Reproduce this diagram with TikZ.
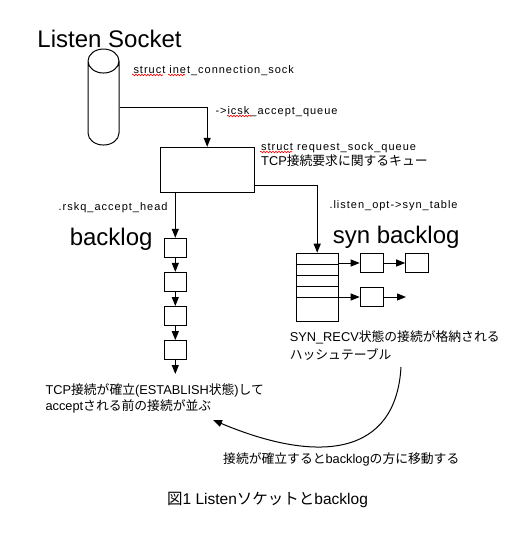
\documentclass[tikz,border=0pt]{standalone}
\usepackage{fontspec}
\setmainfont{Liberation Sans}
\newfontfamily\labfont[LetterSpace=9]{Liberation Sans}
\newfontfamily\jpfont{Noto Sans CJK JP}
\newcommand\jtext[1]{{\jpfont #1}}
\usetikzlibrary{arrows.meta,shapes.geometric,calc,decorations.pathmorphing}

\begin{document}
\begin{tikzpicture}[x=1pt, y=-1pt, line width=1pt, >={Triangle[length=9pt,width=7pt]},
	box/.style={draw, inner sep=0pt},
	cell/.style={box, minimum width=22pt, minimum height=19pt},
	entry/.style={box, minimum width=23pt, minimum height=19.4pt},
	lab/.style={inner sep=0pt, anchor=base west, font=\labfont\fontsize{11}{13}\selectfont},
	jp/.style={inner sep=0pt, anchor=base west, font=\fontsize{12.8}{15}\selectfont},
	big/.style={inner sep=0pt, anchor=base west, font=\fontsize{24}{28}\selectfont},
	typo/.style={red, line width=0.6pt, decorate, decoration={snake, amplitude=0.8pt, segment length=3pt}}]
	\useasboundingbox (0,0) rectangle (528,536);
	\node[big] (title) at (37,47) {Listen Socket};
	\node[cylinder, shape border rotate=90, draw, minimum width=31pt, minimum height=96pt, shape aspect=3.6] (sock) at (103.5,107) {};
	\node[lab] (inet) at (133,73) {struct inet\_connection\_sock};
	\node[lab] (icsk) at (215,114) {->icsk\_accept\_queue};
	\node[box, minimum width=94pt, minimum height=45pt] (queue) at (207.2,169.8) {};
	\node[lab] (rsq) at (260.7,150) {struct request\_sock\_queue};
	\node[jp] (rsqjp) at (260.7,165.7) {TCP\jtext{接続要求に関するキュー}};
	\draw[->] (sock.east) -| (queue.north);
	\draw[typo] (132,75) -- (163,75);
	\draw[typo] (168,75) -- (185,75);
	\draw[typo] (227,116) -- (251,116);
	\draw[typo] (260,152) -- (292,152);

	\node[lab, anchor=base east] (head) at (168,210.7) {.rskq\_accept\_head};
	\node[big] (bl) at (69.3,245) {backlog};
	\foreach \i in {1,...,4}
		\node[cell] (b\i) at (175.3,213.7+34.1*\i) {};
	\draw[->] (b1.north |- queue.south) -- (b1.north);
	\foreach \i [count=\j from 2] in {1,2,3}
		\draw[->] (b\i) -- (b\j);
	\coordinate (bend) at (175.3,374);
	\draw[->] (b4) -- (bend);

	\node[lab] (synt) at (329,208.3) {.listen\_opt->syn\_table};
	\node[big] (sbl) at (332.3,243.3) {syn backlog};
	\node[box, minimum width=42pt, minimum height=68pt] (hash) at (317.2,287.2) {};
	\foreach \i in {1,...,4}
		\draw ($(hash.north west)+(0,11.3*\i)$) -- ($(hash.north east)+(0,11.3*\i)$);
	\draw[->] ($(queue.south east)+(0,-7)$) -| (hash.north);
	\node[entry] (s1) at (371.7,263) {};
	\node[entry] (s2) at (417.2,263) {};
	\node[entry] (s3) at (371.7,297) {};
	\draw[->] (hash.east |- s1) -- (s1);
	\draw[->] (s1) -- (s2);
	\draw[->] (hash.east |- s3) -- (s3);
	\coordinate (send) at (406,297);
	\draw[->] (s3) -- (send);
	\node[jp] (recv1) at (289.3,341.7) {SYN\_RECV\jtext{状態の接続が格納される}};
	\node[jp] (recv2) at (289.3,359.3) {\jtext{ハッシュテーブル}};

	\node[jp] (est1) at (45,394) {TCP\jtext{接続が確立}(ESTABLISH\jtext{状態})\jtext{して}};
	\node[jp] (est2) at (45,410) {accept\jtext{される前の接続が並ぶ}};
	\coordinate (mvs) at (401,367);
	\coordinate (mve) at (213,420);
	\draw[->] (mvs) .. controls (396,455) and (320,465) .. (mve);
	\node[jp] (move) at (222.7,463.3) {\jtext{接続が確立すると}backlog\jtext{の方に移動する}};
	\node[jp, font=\fontsize{15.5}{18}\selectfont] (cap) at (166.7,504) {\jtext{図}1 Listen\jtext{ソケットと}backlog};
\end{tikzpicture}
\end{document}
